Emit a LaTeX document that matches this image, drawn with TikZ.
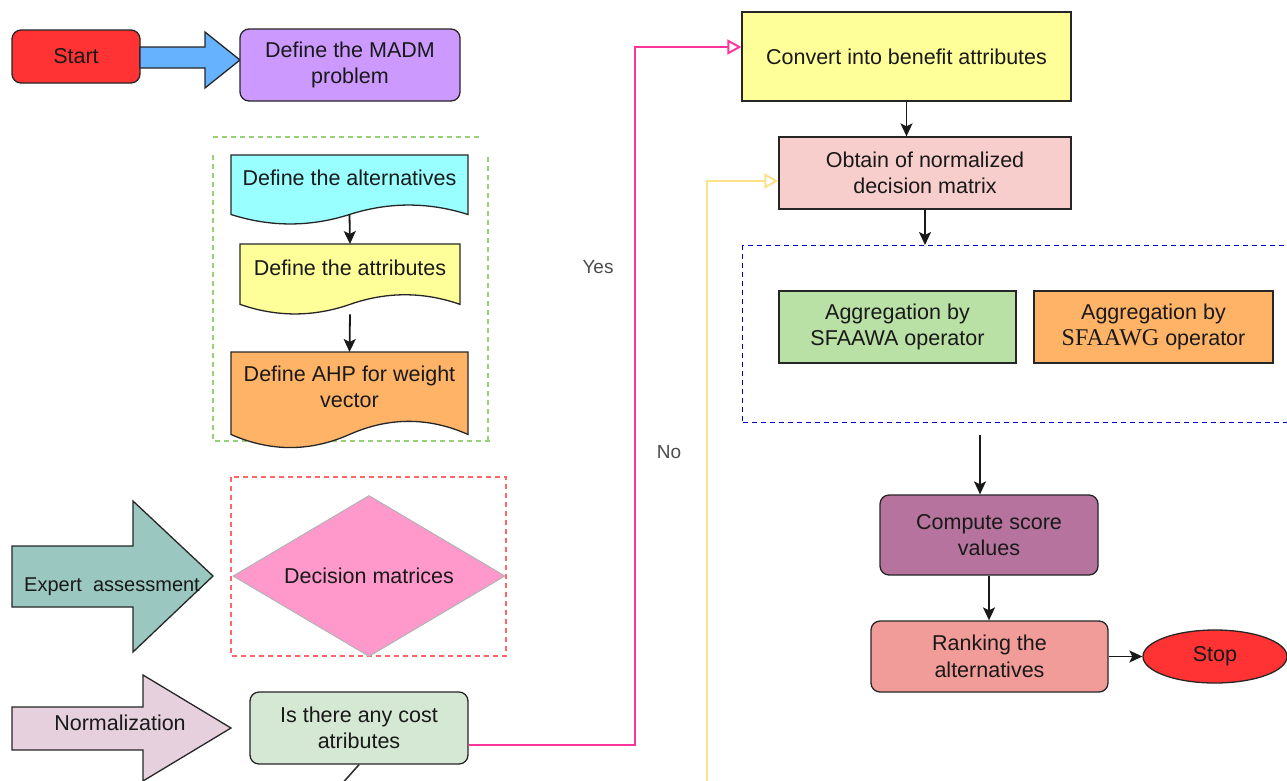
\documentclass[tikz,border=0pt]{standalone}
\usepackage{fontspec}
\setmainfont{Liberation Sans}
\newfontfamily\tms{Liberation Serif}
\usetikzlibrary{shapes.geometric,arrows.meta}
\definecolor{cstart}{HTML}{FF3333}
\definecolor{cblue}{HTML}{66B2FF}
\definecolor{cmadm}{HTML}{CC99FF}
\definecolor{calt}{HTML}{99FFFF}
\definecolor{cattr}{HTML}{FFFF99}
\definecolor{cahp}{HTML}{FFB366}
\definecolor{cgdash}{HTML}{97D077}
\definecolor{crdash}{HTML}{FF6666}
\definecolor{cdiam}{HTML}{FF99CC}
\definecolor{cexp}{HTML}{9AC7BF}
\definecolor{cnorm}{HTML}{E6D0DE}
\definecolor{ccost}{HTML}{D5E8D4}
\definecolor{cconv}{HTML}{FFFF99}
\definecolor{cobt}{HTML}{F8CECC}
\definecolor{cbdash}{HTML}{0000CC}
\definecolor{cwa}{HTML}{B9E0A5}
\definecolor{cwg}{HTML}{FFB366}
\definecolor{ccomp}{HTML}{B5739D}
\definecolor{crank}{HTML}{F19C99}
\definecolor{cpink}{HTML}{FF3399}
\definecolor{cyel}{HTML}{FFE08A}
\newcommand\fs{\fontsize{21.5}{26.5}\selectfont}
\newcommand\docshape[6]{%
  \pgfmathsetmacro\dyv{0.3*#4}%
  \filldraw[fill=#5, draw=black!85, line width=1.3pt]
    (#1,#2) -- (#1+#3,#2) -- (#1+#3,#2+#4-0.5*\dyv)
    .. controls (#1+5*#3/6,#2+#4-1.1*\dyv) and (#1+2*#3/3,#2+#4-1.1*\dyv) .. (#1+0.5*#3,#2+#4-0.5*\dyv)
    .. controls (#1+#3/3,#2+#4+0.1*\dyv) and (#1+#3/6,#2+#4+0.1*\dyv) .. (#1,#2+#4-0.5*\dyv) -- cycle;
  \coordinate (#6-n) at (#1+0.5*#3,#2);
  \coordinate (#6-s) at (#1+0.5*#3,#2+#4-0.5*\dyv);
}
\tikzset{
  box/.style={draw=black!85, line width=1.3pt, align=center, text=black!90, font=\fs, inner sep=0pt},
  rbox/.style={box, rounded corners=9pt},
  txt/.style={align=center, text=black!90, font=\fs, inner sep=0pt},
  lbl/.style={text=black!70, font=\fontsize{19}{22}\selectfont, inner sep=0pt},
  arr/.style={-{Stealth[length=13pt,width=12pt,inset=3pt]}, line width=1.8pt, draw=black!90},
  openarr/.style={-{Triangle[open,length=14pt,width=15pt]}, line width=1.9pt},
  blockarr/.style={draw=black!85, line width=1.3pt},
}
\begin{document}
\begin{tikzpicture}[x=1pt,y=-1pt]
\useasboundingbox (0,0) rectangle (1287,780);
\fill[white] (0,0) rectangle (1287,780);
\clip (0,0) rectangle (1287,780);

% Start and problem
\node[rbox, fill=cstart, minimum width=128, minimum height=53] (start) at (76,56.5) {Start};
\filldraw[blockarr, fill=cblue] (140,47) -- (205,47) -- (205,32) -- (240,60) -- (205,88) -- (205,68) -- (140,68) -- cycle;
\node[rbox, fill=cmadm, minimum width=220, minimum height=72] (madm) at (350,65) {Define the MADM\\problem};

% green dashed group
\draw[cgdash, dashed, line width=1.2pt, dash pattern=on 5pt off 4pt] (213,137) -- (482,137);
\draw[cgdash, dashed, line width=1.2pt, dash pattern=on 5pt off 4pt] (213,155) -- (213,441) -- (490,441);
\draw[cgdash, dashed, line width=1.2pt, dash pattern=on 5pt off 4pt] (488,157) -- (488,441);

\docshape{231}{155}{237}{70}{calt}{d1}
\node[txt] (alt) at (349.5,178) {Define the alternatives};
\docshape{240}{244}{220}{71}{cattr}{d2}
\node[txt] (attr) at (350,268) {Define the attributes};
\docshape{231}{352}{237}{97}{cahp}{d3}
\node[txt] (ahp) at (349.5,387) {Define AHP for weight\\vector};
\draw[arr] (d1-s) -- (d2-n);
\draw[arr] ([yshift=-10pt]d2-s) -- (d3-n);

% decision matrices
\draw[crdash, dashed, line width=1.2pt, dash pattern=on 5pt off 4pt] (231,477) rectangle (506,656);
\node[diamond, aspect=1.69, draw=black!30, line width=1pt, fill=cdiam, minimum width=272, minimum height=161, inner sep=0pt, font=\fs, text=black!90] (dec) at (369,576) {Decision matrices};

\filldraw[blockarr, fill=cexp] (12,546) -- (133,546) -- (133,501) -- (213,576) -- (133,652) -- (133,607) -- (12,607) -- cycle;
\node[txt, anchor=west, font=\fontsize{20}{24}\selectfont] (expert) at (24,587) {Expert\ \ assessment};

\filldraw[blockarr, fill=cnorm] (12,707) -- (143,707) -- (143,675) -- (231,728) -- (143,781) -- (143,750) -- (12,750) -- cycle;
\node[txt] (norm) at (120,723) {Normalization};

\node[rbox, fill=ccost, minimum width=218, minimum height=72] (cost) at (359,728) {Is there any cost\\atributes};
\coordinate (costout) at (340,786);
\draw[black!80, line width=1.6pt] (cost.south) -- (costout);

% right column
\node[box, fill=cconv, minimum width=329, minimum height=89] (conv) at (906.5,56.5) {Convert into benefit attributes};
\node[box, fill=cobt, minimum width=292, minimum height=72] (obt) at (925,173) {Obtain of normalized\\decision matrix};
\draw[arr] (conv.south) -- (conv.south |- obt.north);

\node[draw=cbdash, dashed, dash pattern=on 5pt off 4pt, line width=1.2pt, minimum width=560, minimum height=177, inner sep=0pt, anchor=north west] (agg) at (742,245) {};
\draw[arr] (obt.south) -- (obt.south |- agg.north);
\node[box, fill=cwa, minimum width=237, minimum height=72] (wa) at (897.5,327) {Aggregation by\\SFAAWA operator};
\node[box, fill=cwg, minimum width=239, minimum height=72] (wg) at (1153.5,327) {Aggregation by\\{\tms\fontsize{24}{26.5}\selectfont SFAAWG} operator};

\node[rbox, fill=ccomp, minimum width=218, minimum height=80] (comp) at (989,535) {Compute score\\values};
\coordinate (aggout) at (980,435);
\draw[arr] (aggout) -- (aggout |- comp.north);
\node[rbox, fill=crank, minimum width=237, minimum height=71] (rank) at (989.5,656.5) {Ranking the\\alternatives};
\draw[arr] (comp.south) -- (comp.south |- rank.north);
\node[ellipse, draw=black!85, line width=1.3pt, fill=cstart, minimum width=144, minimum height=53, inner sep=0pt, font=\fs, text=black!90] (stop) at (1215,656.5) {Stop};
\draw[arr] (rank.east) -- (stop.west);

% yes / no connectors
\draw[cpink, openarr] (cost.east |- 0,745) -- (635,745) -- (635,47) -- (conv.west |- 0,47);
\node[lbl] (yes) at (598,267) {Yes};
\coordinate (nostart) at (707,790);
\draw[cyel, openarr] (nostart) -- (707,181) -- (obt.west |- 0,181);
\node[lbl] (no) at (669,452) {No};
\end{tikzpicture}
\end{document}
